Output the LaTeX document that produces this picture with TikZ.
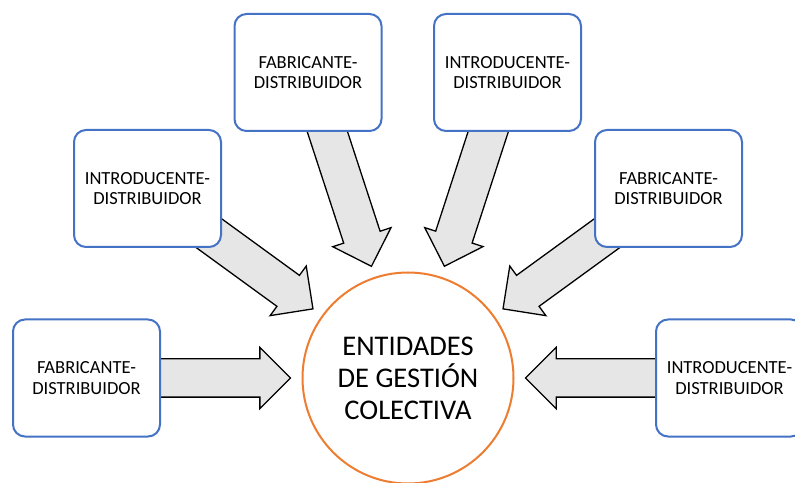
\documentclass[tikz,border=0pt]{standalone}
\usepackage{fontspec}
\setmainfont{Carlito}
\usetikzlibrary{positioning}
\usetikzlibrary{calc}
\usetikzlibrary{shapes.arrows}
\usetikzlibrary{backgrounds}

\definecolor{boxblue}{HTML}{4472C4}
\definecolor{circorange}{HTML}{ED7D31}
\definecolor{arrgray}{HTML}{E6E6E6}

% block arrow from a box towards the circle, stopping short of it
\newcommand{\bigarrow}[2]{%
	\path let \p1 = ($(#2)-(#1)$), \n1 = {atan2(\y1,\x1)}, \n2 = {veclen(\x1,\y1)-117.5} in
		node[bigarr, rotate = \n1, minimum height = \n2] at (#1) {};
}

\begin{document}
\begin{tikzpicture}[x = 1pt, y = 1pt,
	entity/.style = {draw = boxblue, line width = 2pt, rounded corners = 12pt, fill = white,
		minimum width = 147pt, minimum height = 117pt, align = center,
		font = \fontsize{18.5}{20.5}\selectfont},
	gestora/.style = {circle, draw = circorange, line width = 2pt, fill = white,
		minimum size = 211pt, align = center, font = \fontsize{28.5}{32}\selectfont},
	bigarr/.style = {single arrow, draw = black, line width = 1.3pt, fill = arrgray,
		anchor = tail, inner xsep = 0pt, inner ysep = 18.5pt, outer sep = 0pt,
		single arrow head extend = 11.5pt, single arrow tip angle = 90}]
			\useasboundingbox (0,0) rectangle (795,482);
			
			\node[gestora] (C) at (408,104) {ENTIDADES\\DE GESTIÓN\\COLECTIVA};
			
			\node[entity] (FD1) at (86.5,104) {FABRICANTE-\\DISTRIBUIDOR};
			\node[entity] (ID1) at (147.5,293.5) {INTRODUCENTE-\\DISTRIBUIDOR};
			\node[entity] (FD2) at (308,409.5) {FABRICANTE-\\DISTRIBUIDOR};
			\node[entity] (ID2) at (507.5,409.5) {INTRODUCENTE-\\DISTRIBUIDOR};
			\node[entity] (FD3) at (668.5,293.5) {FABRICANTE-\\DISTRIBUIDOR};
			\node[entity] (ID3) at (729.5,104) {INTRODUCENTE-\\DISTRIBUIDOR};
			
			\begin{scope}[on background layer]
			\bigarrow{FD1}{C}
			\bigarrow{ID1}{C}
			\bigarrow{FD2}{C}
			\bigarrow{ID2}{C}
			\bigarrow{FD3}{C}
			\bigarrow{ID3}{C}
			\end{scope}
\end{tikzpicture}
\end{document}
